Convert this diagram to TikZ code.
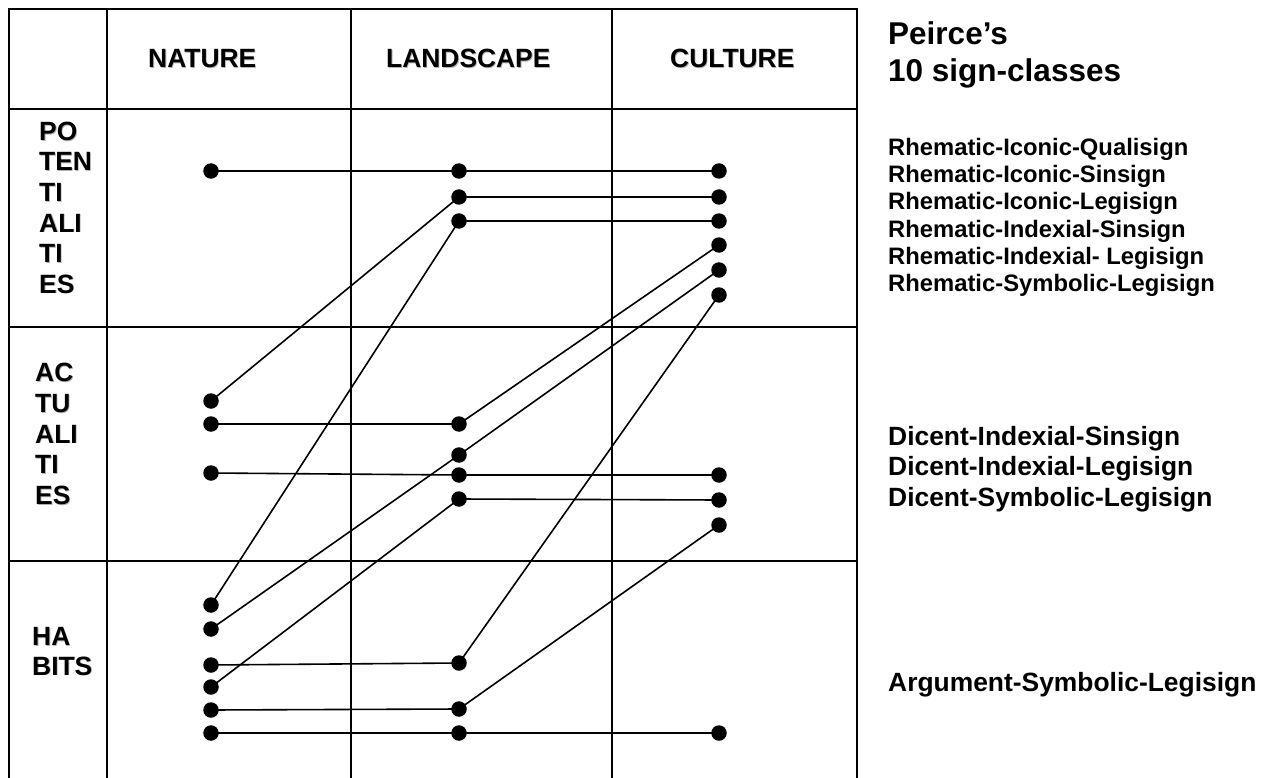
\documentclass[tikz,border=0pt]{standalone}
\usepackage{fontspec}
\setmainfont{Liberation Sans}
\newcommand\shtext[1]{\rlap{\kern0.8pt\raisebox{-0.8pt}{\color{black!30}#1}}#1}
\begin{document}
\begin{tikzpicture}[x=1pt,y=-1pt,
  grid/.style={line width=2pt},
  conn/.style={line width=1.6pt},
  dot/.style={circle,fill=black,inner sep=0pt,minimum size=15.5pt},
  hdr/.style={anchor=base west,inner sep=0pt,font=\fontsize{26.4}{30}\selectfont\bfseries},
  ttl/.style={anchor=base west,inner sep=0pt,font=\fontsize{31.5}{36}\selectfont\bfseries},
  rhem/.style={anchor=base west,inner sep=0pt,font=\fontsize{23.8}{27}\selectfont\bfseries},
  big/.style={anchor=base west,inner sep=0pt,font=\fontsize{26.4}{30}\selectfont\bfseries}]
\useasboundingbox (0,0) rectangle (1271,778);
% grid
\draw[grid] (9,778) -- (9,9) -- (857,9) -- (857,778);
\draw[grid] (9,109) -- (857,109);
\draw[grid] (9,327) -- (857,327);
\draw[grid] (9,561) -- (857,561);
\draw[grid] (107,9) -- (107,778);
\draw[grid] (351,9) -- (351,778);
\draw[grid] (612,9) -- (612,778);
% headers
\node[hdr] (hN) at (148,67.3) {\shtext{NATURE}};
\node[hdr] (hL) at (386,67.3) {\shtext{LANDSCAPE}};
\node[hdr] (hC) at (670,67.3) {\shtext{CULTURE}};
% row labels
\foreach \t/\y [count=\i] in {PO/140.5,TEN/171,TI/201.5,ALI/232,TI/262.5,ES/293}
  \node[hdr] (pot\i) at (39,\y) {\shtext{\t}};
\foreach \t/\y [count=\i] in {AC/381.5,TU/412.3,ALI/443.1,TI/473.9,ES/504.7}
  \node[hdr] (act\i) at (35,\y) {\shtext{\t}};
\foreach \t/\y [count=\i] in {HA/645.5,BITS/675}
  \node[hdr] (hab\i) at (32,\y) {\shtext{\t}};
% dot positions
\coordinate (n1) at (211,171);
\coordinate (na1) at (211,401);
\coordinate (na2) at (211,424);
\coordinate (na3) at (211,473);
\coordinate (nh1) at (211,605);
\coordinate (nh2) at (211,629);
\coordinate (nh3) at (211,665);
\coordinate (nh4) at (211,687);
\coordinate (nh5) at (211,710);
\coordinate (nh6) at (211,733);
\coordinate (l1) at (459,171);
\coordinate (l2) at (459,197);
\coordinate (l3) at (459,221);
\coordinate (la1) at (459,424);
\coordinate (la2) at (459,455);
\coordinate (la3) at (459,475);
\coordinate (la4) at (459,499);
\coordinate (lh1) at (459,663);
\coordinate (lh2) at (459,709);
\coordinate (lh3) at (459,733);
\coordinate (c1) at (719,171);
\coordinate (c2) at (719,197);
\coordinate (c3) at (719,221);
\coordinate (c4) at (719,245);
\coordinate (c5) at (719,270);
\coordinate (c6) at (719,295);
\coordinate (ca1) at (719,475);
\coordinate (ca2) at (719,500);
\coordinate (ca3) at (719,525);
\coordinate (ch) at (719,733);
% connectors
\draw[conn] (n1) -- (l1) -- (c1);
\draw[conn] (na1) -- (l2) -- (c2);
\draw[conn] (nh1) -- (l3) -- (c3);
\draw[conn] (na2) -- (la1) -- (c4);
\draw[conn] (nh2) -- (la2) -- (c5);
\draw[conn] (nh3) -- (lh1) -- (c6);
\draw[conn] (na3) -- (la3) -- (ca1);
\draw[conn] (nh4) -- (la4) -- (ca2);
\draw[conn] (nh5) -- (lh2) -- (ca3);
\draw[conn] (nh6) -- (lh3) -- (ch);
% dots
\foreach \p in {n1,na1,na2,na3,nh1,nh2,nh3,nh4,nh5,nh6,l1,l2,l3,la1,la2,la3,la4,lh1,lh2,lh3,c1,c2,c3,c4,c5,c6,ca1,ca2,ca3,ch}
  \node[dot] (d-\p) at (\p) {};
% right texts
\node[ttl] (t1) at (888,45) {Peirce’s};
\node[ttl] (t2) at (888,81.7) {10 sign-classes};
\node[rhem] (r1) at (888,155.3) {Rhematic-Iconic-Qualisign};
\node[rhem] (r2) at (888,182.6) {Rhematic-Iconic-Sinsign};
\node[rhem] (r3) at (888,209.9) {Rhematic-Iconic-Legisign};
\node[rhem] (r4) at (888,237.2) {Rhematic-Indexial-Sinsign};
\node[rhem] (r5) at (888,264.5) {Rhematic-Indexial- Legisign};
\node[rhem] (r6) at (888,291.8) {Rhematic-Symbolic-Legisign};
\node[big] (d1) at (888,445.5) {Dicent-Indexial-Sinsign};
\node[big] (d2) at (888,475.7) {Dicent-Indexial-Legisign};
\node[big] (d3) at (888,506) {Dicent-Symbolic-Legisign};
\node[big] (a1) at (888,691.7) {Argument-Symbolic-Legisign};
\end{tikzpicture}
\end{document}
